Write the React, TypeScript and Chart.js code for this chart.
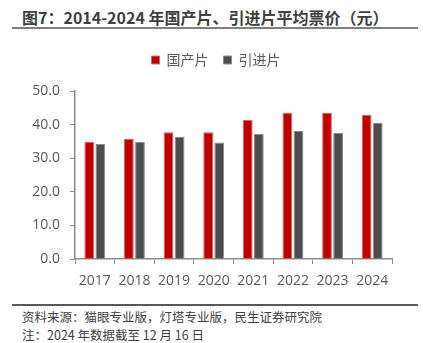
import React, { useEffect, useRef } from "react";
import { Chart, registerables } from "chart.js";

Chart.register(...registerables);

const years = ["2017", "2018", "2019", "2020", "2021", "2022", "2023", "2024"];
const domestic = [34.8, 35.7, 37.7, 37.7, 41.4, 43.5, 43.5, 42.9];
const imported = [34.2, 34.8, 36.4, 34.7, 37.2, 38.1, 37.5, 40.5];
const seriesNames = ["国产片", "引进片"];
const titleText = "图7：2014-2024 年国产片、引进片平均票价（元）";
const sourceText = "资料来源：猫眼专业版，灯塔专业版，民生证券研究院";
const noteText = "注：2024 年数据截至 12 月 16 日";

const CJK = '"Noto Sans CJK SC", "Noto Sans", sans-serif';
const NUM = '"Open Sans", "Noto Sans", sans-serif';

export default function App() {
  const ref = useRef<HTMLCanvasElement | null>(null);

  useEffect(() => {
    document.body.style.margin = "0";
    const canvas = ref.current;
    if (!canvas) return;
    const legendSpacer = {
      id: "legendSpacer",
      beforeInit(chart: any) {
        const orig = chart.legend.fit;
        chart.legend.fit = function () {
          orig.bind(chart.legend)();
          this.height += 14;
        };
      },
      afterLayout(chart: any) {
        if (chart.legend) {
          chart.legend.left += 20;
          chart.legend.right += 20;
        }
      },
    };
    const chart = new Chart(canvas, {
      type: "bar",
      data: {
        labels: years,
        datasets: [
          {
            label: seriesNames[0],
            data: domestic,
            backgroundColor: "#C00000",
            borderColor: "#E06060",
            borderWidth: 1,
            categoryPercentage: 0.56,
            barPercentage: 0.88,
          },
          {
            label: seriesNames[1],
            data: imported,
            backgroundColor: "#4D4D4F",
            borderColor: "#8A8A8A",
            borderWidth: 1,
            categoryPercentage: 0.56,
            barPercentage: 0.88,
          },
        ],
      },
      plugins: [legendSpacer],
      options: {
        animation: false,
        responsive: false,
        maintainAspectRatio: false,
        layout: { padding: { top: 6, right: 31, bottom: 0, left: 0 } },
        plugins: {
          tooltip: { enabled: false },
          legend: {
            display: true,
            position: "top",
            labels: {
              boxWidth: 8,
              boxHeight: 8,
              padding: 15,
              color: "#595959",
              font: { family: CJK, size: 14 },
            },
          },
        },
        scales: {
          x: {
            grid: {
              display: true,
              drawOnChartArea: false,
              drawTicks: true,
              tickLength: 5,
              color: "#8C8C8C",
              offset: true,
            },
            border: { display: true, color: "#8C8C8C", width: 1.5 },
            ticks: {
              color: "#595959",
              font: { family: NUM, size: 14 },
              padding: 9,
              maxRotation: 0,
              autoSkip: false,
            },
            afterFit(scale: any) {
              scale.height = 43;
            },
          },
          y: {
            min: 0,
            max: 50,
            grid: {
              display: true,
              drawOnChartArea: false,
              drawTicks: true,
              tickLength: 5,
              color: "#8C8C8C",
            },
            border: { display: true, color: "#8C8C8C", width: 1.5 },
            ticks: {
              stepSize: 10,
              color: "#595959",
              font: { family: NUM, size: 14 },
              padding: 10,
              callback: (v: any) => Number(v).toFixed(1),
            },
            afterFit(scale: any) {
              scale.width = 75;
            },
          },
        },
      },
    });
    return () => chart.destroy();
  }, []);

  return (
    <div style={{ position: "relative", width: 423, height: 343, background: "#fff", overflow: "hidden" }}>
      <div
        style={{
          position: "absolute",
          left: 22,
          top: 7,
          fontFamily: CJK,
          fontWeight: 700,
          fontSize: 16,
          lineHeight: "20px",
          color: "#404040",
          whiteSpace: "nowrap",
        }}
      >
        {titleText}
      </div>
      <div style={{ position: "absolute", left: 12, top: 27, width: 406, height: 2, background: "#7F7F7F" }} />
      <canvas
        ref={ref}
        width={423}
        height={270}
        style={{ position: "absolute", left: 0, top: 32, width: 423, height: 270 }}
      />
      <div style={{ position: "absolute", left: 12, top: 304, width: 406, height: 1.5, background: "#595959" }} />
      <div
        style={{
          position: "absolute",
          left: 22,
          top: 309,
          fontFamily: CJK,
          fontSize: 12.5,
          lineHeight: "16px",
          color: "#404040",
          whiteSpace: "nowrap",
        }}
      >
        {sourceText}
      </div>
      <div
        style={{
          position: "absolute",
          left: 22,
          top: 327,
          fontFamily: CJK,
          fontSize: 12.5,
          lineHeight: "16px",
          color: "#404040",
          whiteSpace: "nowrap",
        }}
      >
        {noteText}
      </div>
    </div>
  );
}
